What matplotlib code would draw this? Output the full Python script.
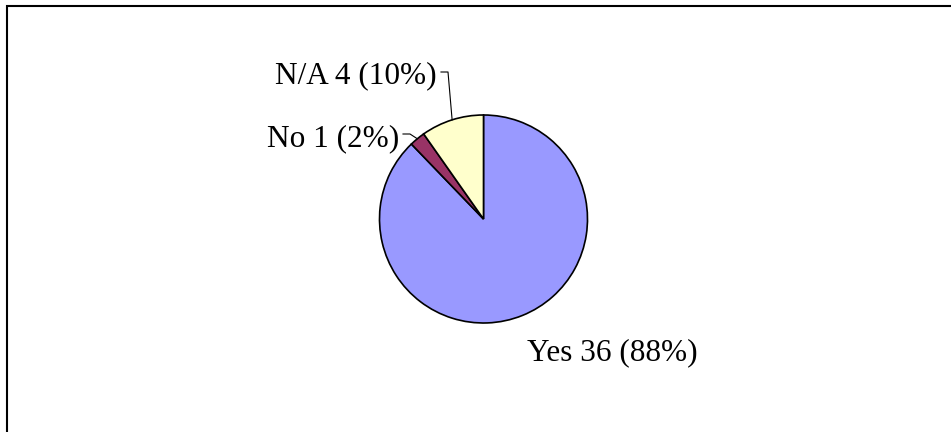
import matplotlib
matplotlib.use("Agg")
import matplotlib.pyplot as plt
from matplotlib.patches import Rectangle
from matplotlib.lines import Line2D
import numpy as np

labels = ["Yes", "No", "N/A"]
counts = [36, 1, 4]
percents = [88, 2, 10]
colors = ["#9999FF", "#993366", "#FFFFCC"]

W, H = 951, 432
fig = plt.figure(figsize=(W / 100, H / 100), dpi=100)
plt.rcParams['font.family'] = ['Liberation Serif', 'DejaVu Serif']


def px(x, y):
    # pixel (from top-left) -> figure fraction
    return x / W, 1 - y / H


# outer frame (only top and left edges fall inside the picture)
fig.patches.append(Rectangle(px(7, H + 20), (W + 20) / W, (H + 14) / H,
                             transform=fig.transFigure, fill=False,
                             edgecolor="black", linewidth=1.5))

# pie axes
cx, cy, r = 483.5, 219, 104
ax = fig.add_axes([(cx - r) / W, (H - cy - r) / H, 2 * r / W, 2 * r / H])
wedges, _ = ax.pie(counts, colors=colors, startangle=90, counterclock=False,
                   radius=1, wedgeprops=dict(edgecolor="black", linewidth=1.2))
ax.set_xlim(-1, 1)
ax.set_ylim(-1, 1)
ax.set_aspect("auto")
ax.axis("off")

texts = ["%s %d (%d%%)" % (l, c, p) for l, c, p in zip(labels, counts, percents)]
fs = 22.5

fig.text(*px(527, 360), texts[0], ha="left", va="baseline", fontsize=fs)
fig.text(*px(399, 146), texts[1], ha="right", va="baseline", fontsize=fs)
fig.text(*px(437, 83), texts[2], ha="right", va="baseline", fontsize=fs)


def edge_point(w):
    ang = np.deg2rad((w.theta1 + w.theta2) / 2)
    return cx + r * np.cos(ang), cy - r * np.sin(ang)


# leader lines
ex, ey = edge_point(wedges[1])
xs, ys = zip(px(403, 134), px(410, 134), px(ex, ey))
fig.add_artist(Line2D(xs, ys, color="black", linewidth=0.8))
ex, ey = edge_point(wedges[2])
xs, ys = zip(px(441, 72), px(448, 72), px(ex, ey))
fig.add_artist(Line2D(xs, ys, color="black", linewidth=0.8))

fig.savefig("out.png", dpi=100, facecolor="white")
